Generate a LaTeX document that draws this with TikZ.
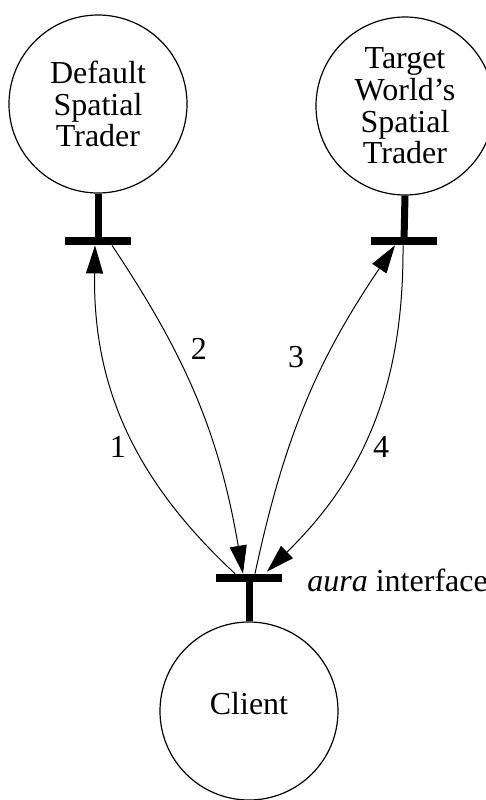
\documentclass[tikz,border=0pt]{standalone}
\usepackage{fontspec}
\setmainfont{Liberation Serif}
\usetikzlibrary{arrows.meta}

\begin{document}
\begin{tikzpicture}[x=0.5pt,y=-0.5pt]
	\tikzstyle{every node}=[font=\fontsize{16}{15.8}\selectfont, inner sep=1pt]
	\tikzstyle{trader}=[circle, draw, line width=0.6pt, minimum size=89pt, align=center]
	\tikzstyle{port}=[rectangle, fill, inner sep=0pt, minimum width=33pt, minimum height=4pt]
	\tikzstyle{stem}=[line width=3.5pt]
	\tikzstyle{msg}=[line width=0.5pt, -{Triangle[length=14pt,width=8.5pt]}]
	\useasboundingbox (0,0) rectangle (486,800);
	\draw (98,104) node (dst) [trader] {Default\\Spatial\\Trader};
	\draw (405,106) node (tst) [trader] {Target\\World's\\Spatial\\Trader};
	\draw (249,711) node (cl) [trader, text depth=8pt] {Client};
	\draw (98,241) node (dbar) [port] {};
	\draw (404,241) node (tbar) [port] {};
	\draw (249,578) node (cbar) [port] {};
	\draw[stem] (dst.south) -- (dbar.center);
	\draw[stem] (tst.south) -- (tbar.center);
	\draw[stem] (cl.north) -- (cbar.center);
	% messages
	\draw[msg] ([xshift=-7pt]cbar.north) to[bend left=24] ([xshift=-1.5pt]dbar.south);
	\draw[msg] ([xshift=7pt]dbar.south) to[bend left=12] ([xshift=-3pt]cbar.north);
	\draw[msg] ([xshift=3pt]cbar.north) to[bend left=11] ([xshift=-4.5pt]tbar.south);
	\draw[msg] ([xshift=-0.5pt]tbar.south) to[bend left=23] ([xshift=9pt,yshift=1pt]cbar.north);
	\draw (118,447) node (n1) {1};
	\draw (199,349) node (n2) {2};
	\draw (296,357) node (n3) {3};
	\draw (381,447) node (n4) {4};
	\draw (305,591) node (aura) [anchor=base west] {\textit{aura} interface};
\end{tikzpicture}
\end{document}
